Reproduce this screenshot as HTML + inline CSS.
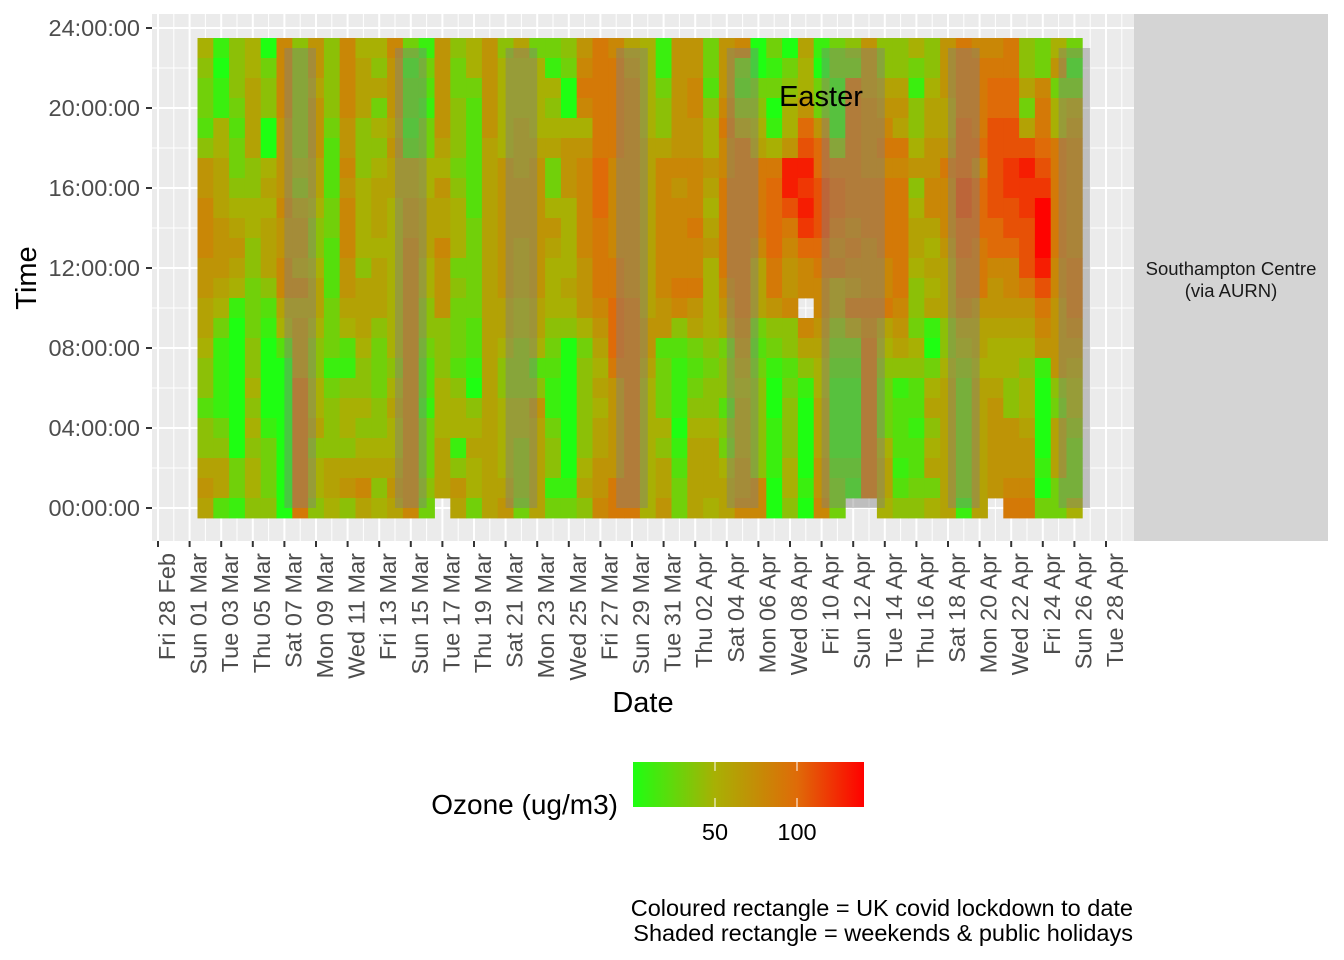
<!DOCTYPE html>
<html><head><meta charset="utf-8"><title>Ozone heatmap</title>
<style>
html,body{margin:0;padding:0;background:#fff;}
svg{display:block;font-family:"Liberation Sans",Arial,sans-serif;}
</style></head>
<body>
<svg id="chart" width="1344" height="960" viewBox="0 0 1344 960" xmlns="http://www.w3.org/2000/svg">
  <defs>
    <linearGradient id="legGrad" x1="0" x2="1" y1="0" y2="0">
      <stop offset="0" stop-color="#1eff12"/>
      <stop offset="0.355" stop-color="#a8b004"/>
      <stop offset="0.71" stop-color="#df6b08"/>
      <stop offset="1" stop-color="#ff0000"/>
    </linearGradient>
  </defs>
  <rect x="152" y="14" width="982" height="527" fill="#ebebeb"/>
  <g id="grid"></g>
  <g id="tiles"></g>
  <g id="shades"></g>
  <text x="821" y="106" font-size="29" text-anchor="middle" fill="#000">Easter</text>
  <rect x="1134" y="14" width="194" height="527" fill="#d4d4d4"/>
  <text x="1231" y="275" font-size="18.5" text-anchor="middle" fill="#1a1a1a">Southampton Centre</text>
  <text x="1231" y="297" font-size="18.5" text-anchor="middle" fill="#1a1a1a">(via AURN)</text>
  <g id="yaxis"></g>
  <g id="xaxis"></g>
  <text transform="translate(36,278) rotate(-90)" font-size="29" text-anchor="middle" fill="#000">Time</text>
  <text x="643" y="712" font-size="29" text-anchor="middle" fill="#000">Date</text>
  <g>
    <text x="618" y="814" font-size="28" text-anchor="end" fill="#000">Ozone (ug/m3)</text>
    <rect x="633" y="762" width="231" height="45" fill="url(#legGrad)"/>
    <g id="legticks"></g>
  </g>
  <text x="1133" y="916" font-size="23.5" text-anchor="end" fill="#000">Coloured rectangle = UK covid lockdown to date</text>
  <text x="1133" y="941" font-size="23.5" text-anchor="end" fill="#000">Shaded rectangle = weekends &amp; public holidays</text>
</svg>
<script>
// ---- data ----
// Each string = one day (starting Mon 02 Mar 2020), listing hours 23 down to 0.
// Code char index in CODE_CHARS * 10 = ozone ug/m3; '-' = missing.
const CODE_CHARS = "0123456789ABCDEF";
const firstDayOffset = 3; // days after Fri 28 Feb
const dayStrings = [
"543324778887766544244676","101155666777653111134662","444323345676510000000331","556666445544333445454554",
"034400565666421000013334","888877778778865200000000","444444546776867779999999","776777665445665445564554",
"444432223322233313444665","888877878887765214554674","566644455554666544545686","546354566656664333445645",
"877767665555555545655676","312212667788888888888888","132133556665544322133343","77777657668777444555666-",
"433444345553433324551476","553222222333332210456553","777776666666666666666666","455555777777766544555567",
"655566677766655444554443","355556777777766524766666","315456335765554321134413","430057775555654000000013",
"789857888887775344444564","999999AAA999987656566778","8999998888899AAA97777799","678888888888899999999999",
"555556666666667765555555","113446888888877233354667","777777878888984211101233","778877888988976323456666",
"332455765675555434456665","777898899999876344243566","832469999999998765666778","003456999986663234444488",
"3130159AAAA9974310011100","034557DDB987784423444554","6557ABDCDCA88-8641000010","10337AABBBA9887655666778",
"3311149AA989664321111233","43999999989879632111121-","77788889998889899999999-","446789899998896543335665",
"446769899999987641222124","531445745665443542212234","445667788656561035645635","777667988876664456666666",
"9999AAABBAA9986543333331","89999A8AAA99976656666666","89AABBBBBAA877655677777-","99AABBCCBBA8876554477789",
"44636BDCCBBB976545567789","33899ABCEEEDB98710000103","573559999998877774366633","313678888889998765543335"
];
const weekendStarts = [8, 15, 22, 29, 36, 42, 50, 57]; // day offsets from 28 Feb
const weekendLengths = [2, 2, 2, 2, 2, 4, 2, 2];
const yTickLabels = ["00:00:00","04:00:00","08:00:00","12:00:00","16:00:00","20:00:00","24:00:00"];
const yTickHours = [0, 4, 8, 12, 16, 20, 24];
const xTickLabels = ["Fri 28 Feb","Sun 01 Mar","Tue 03 Mar","Thu 05 Mar","Sat 07 Mar","Mon 09 Mar","Wed 11 Mar","Fri 13 Mar","Sun 15 Mar","Tue 17 Mar","Thu 19 Mar","Sat 21 Mar","Mon 23 Mar","Wed 25 Mar","Fri 27 Mar","Sun 29 Mar","Tue 31 Mar","Thu 02 Apr","Sat 04 Apr","Mon 06 Apr","Wed 08 Apr","Fri 10 Apr","Sun 12 Apr","Tue 14 Apr","Thu 16 Apr","Sat 18 Apr","Mon 20 Apr","Wed 22 Apr","Fri 24 Apr","Sun 26 Apr","Tue 28 Apr"];
const legendTicks = [50, 100];

// ---- scales ----
const NS = "http://www.w3.org/2000/svg";
const dayW = 15.8;
function xDay(d){ return 158 + d * dayW; }
function yHour(h){ return 508 - 20 * h; }
function xLegend(v){ return 633 + v * 1.64; }
const stops = [[0,[30,255,18]],[50,[168,176,4]],[100,[223,107,8]],[141,[255,0,0]]];
function colour(v){
  if (v <= stops[0][0]) return "rgb("+stops[0][1].join(",")+")";
  for (let i=1;i<stops.length;i++){
    if (v <= stops[i][0]) {
      const a = stops[i-1], b = stops[i], t = (v-a[0])/(b[0]-a[0]);
      const c = a[1].map((x,k)=>Math.round(x+(b[1][k]-x)*t));
      return "rgb("+c.join(",")+")";
    }
  }
  return "rgb(255,0,0)";
}
function mk(tag, attrs, parent){
  const el = document.createElementNS(NS, tag);
  for (const k in attrs) el.setAttribute(k, attrs[k]);
  parent.appendChild(el);
  return el;
}

// grid
const grid = document.getElementById("grid");
for (let d = 0; d <= 61; d++){
  const major = d % 2 === 0;
  const ln = mk("line", {x1:xDay(d), x2:xDay(d), y1:14, y2:541, stroke:"#fff", "stroke-width": major?2:1}, grid);
  
  
}
for (let h = -2; h <= 26; h += 2){
  const y = yHour(h);
  if (y < 14 || y > 541) continue;
  const major = h % 4 === 0;
  const ln = mk("line", {x1:152, x2:1134, y1:y, y2:y, stroke:"#fff", "stroke-width": major?2:1}, grid);
  
  
}

// tiles
const tiles = document.getElementById("tiles");
dayStrings.forEach((s, i) => {
  const d = firstDayOffset + i;
  for (let r = 0; r < 24; r++){
    const ch = s[r];
    if (ch === "-") continue;
    const h = 23 - r;
    const v = CODE_CHARS.indexOf(ch) * 10;
    const t = mk("rect", {x:xDay(d)-dayW/2, y:yHour(h)-10, width:dayW+0.4, height:20.4, fill:colour(v)}, tiles);
    
    
  }
});

// weekend shading
const shades = document.getElementById("shades");
weekendStarts.forEach((d, i) => {
  const r = mk("rect", {x:xDay(d), y:yHour(23), width:xDay(d+weekendLengths[i])-xDay(d), height:yHour(0)-yHour(23), fill:"rgba(128,128,128,0.42)"}, shades);
  
  
});

// y axis
const yaxis = document.getElementById("yaxis");
yTickHours.forEach((h, i) => {
  const y = yHour(h);
  const tk = mk("line", {x1:146, x2:152, y1:y, y2:y, stroke:"#333", "stroke-width":2}, yaxis);
  
  
  const tx = mk("text", {x:140, y:y+8, "font-size":23.5, "text-anchor":"end", fill:"#4d4d4d"}, yaxis);
  tx.textContent = yTickLabels[i];
  
  
});

// x axis
const xaxis = document.getElementById("xaxis");
xTickLabels.forEach((lab, i) => {
  const x = xDay(i*2);
  const tk = mk("line", {x1:x, x2:x, y1:541, y2:547, stroke:"#333", "stroke-width":2}, xaxis);
  
  
  const tx = mk("text", {transform:"translate("+(x+17)+",553) rotate(-90)", "font-size":23.5, "text-anchor":"end", fill:"#4d4d4d"}, xaxis);
  tx.textContent = lab;
  
  
});

// legend ticks
const lt = document.getElementById("legticks");
legendTicks.forEach(v => {
  const x = xLegend(v);
  const a = mk("line", {x1:x, x2:x, y1:762, y2:771, stroke:"#fff", "stroke-width":1}, lt);
  
  
  const b = mk("line", {x1:x, x2:x, y1:798, y2:807, stroke:"#fff", "stroke-width":1}, lt);
  
  
  const t = mk("text", {x:x, y:840, "font-size":23.5, "text-anchor":"middle", fill:"#000"}, lt);
  t.textContent = String(v);
  
  
});
</script>
</body></html>
